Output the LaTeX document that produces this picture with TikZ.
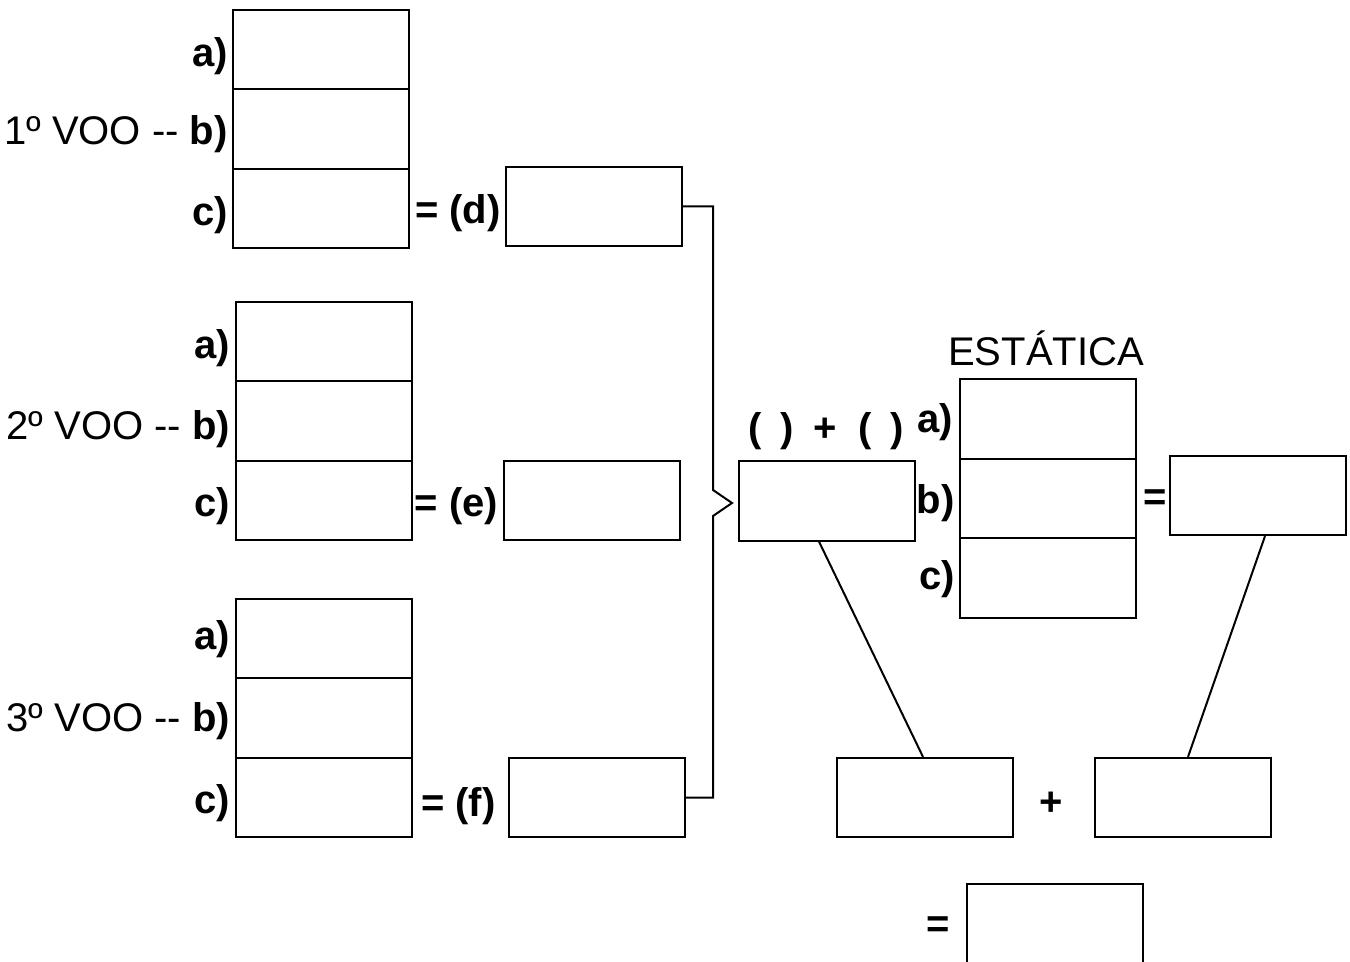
\documentclass[tikz,border=0pt]{standalone}
\usepackage{fontspec}
\setmainfont{Liberation Sans}
\usetikzlibrary{calc}
\begin{document}
\begin{tikzpicture}[x=0.5pt,y=-0.5pt,
  cell/.style={draw,line width=1pt,minimum width=88pt,minimum height=39.6pt,inner sep=0pt},
  lbl/.style={anchor=east,inner sep=2pt,yshift=-1.5pt,font=\fontsize{20pt}{22pt}\selectfont},
  txt/.style={inner sep=0pt,yshift=-1.5pt,font=\fontsize{20pt}{22pt}\selectfont},
  conn/.style={line width=1pt}]
\useasboundingbox (0,0) rectangle (1350,962);
% group 1
\node[cell] (g1a) at (321,49.5) {};
\node[cell] (g1b) at (321,129) {};
\node[cell] (g1c) at (321,208.5) {};
\node[lbl] (l1a) at ($(g1a.west)+(0,4)$) {\textbf{a)}};
\node[lbl] (l1b) at ($(g1b.west)+(0,2)$) {1º VOO -{}- \textbf{b)}};
\node[lbl] (l1c) at ($(g1c.west)+(0,4)$) {\textbf{c)}};
\node[cell] (d) at (594,206.5) {};
\node[lbl] (ld) at ($(d.west)+(0,4)$) {\textbf{= (d)}};
% group 2
\node[cell] (g2a) at (323.5,341.5) {};
\node[cell] (g2b) at (323.5,421) {};
\node[cell] (g2c) at (323.5,500.5) {};
\node[lbl] (l2a) at ($(g2a.west)+(0,4)$) {\textbf{a)}};
\node[lbl] (l2b) at ($(g2b.west)+(0,5)$) {2º VOO -{}- \textbf{b)}};
\node[lbl] (l2c) at ($(g2c.west)+(0,3)$) {\textbf{c)}};
\node[cell] (e) at (591.5,500.5) {};
\node[lbl] (le) at ($(e.west)+(0,3)$) {\textbf{= (e)}};
% group 3
\node[cell] (g3a) at (323.5,638.5) {};
\node[cell] (g3b) at (323.5,718) {};
\node[cell] (g3c) at (323.5,797.5) {};
\node[lbl] (l3a) at ($(g3a.west)+(0,-2)$) {\textbf{a)}};
\node[lbl] (l3b) at ($(g3b.west)+(0,0)$) {3º VOO -{}- \textbf{b)}};
\node[lbl] (l3c) at ($(g3c.west)+(0,3)$) {\textbf{c)}};
\node[cell] (f) at (597,797.5) {};
\node[lbl,inner sep=6pt] (lf) at ($(f.west)+(0,6)$) {\textbf{= (f)}};
% middle
\node[cell] (mid) at (827,501) {};
\node[txt] (pp) at (826,428) {\textbf{(\hspace{9pt})\hspace{10pt}+\hspace{11pt}(\hspace{9pt})}};
% bracket
\coordinate (tip) at ($(mid.west)+(-6,2)$);
\draw[conn] (d.east) -| (713,490) -- (tip) -- (713,516) |- (f.east);
% estatica
\node[txt] (est) at (1046,345) {ESTÁTICA};
\node[cell] (s1) at (1048,419) {};
\node[cell] (s2) at (1048,498.5) {};
\node[cell] (s3) at (1048,578) {};
\node[lbl] (lsa) at ($(s1.west)+(-2,0)$) {\textbf{a)}};
\node[lbl] (lsb) at ($(s2.west)+(0,2)$) {\textbf{b)}};
\node[lbl] (lsc) at ($(s3.west)+(0,-2)$) {\textbf{c)}};
\node[cell] (sr) at (1258,495.5) {};
\node[txt] (eqs) at (1155,497) {\textbf{=}};
% bottom
\node[cell] (bl) at (925,797.5) {};
\node[cell] (br) at (1183,797.5) {};
\node[txt] (plus) at (1051,801) {\textbf{+}};
\node[cell,minimum height=40pt] (bot) at (1055,924) {};
\node[txt] (eqb) at (938,924) {\textbf{=}};
\draw[conn] ($(mid.south)+(-8,0)$) -- ($(bl.north)+(-2,0)$);
\draw[conn] ($(sr.south)+(7,0)$) -- ($(br.north)+(5,0)$);
\end{tikzpicture}
\end{document}
